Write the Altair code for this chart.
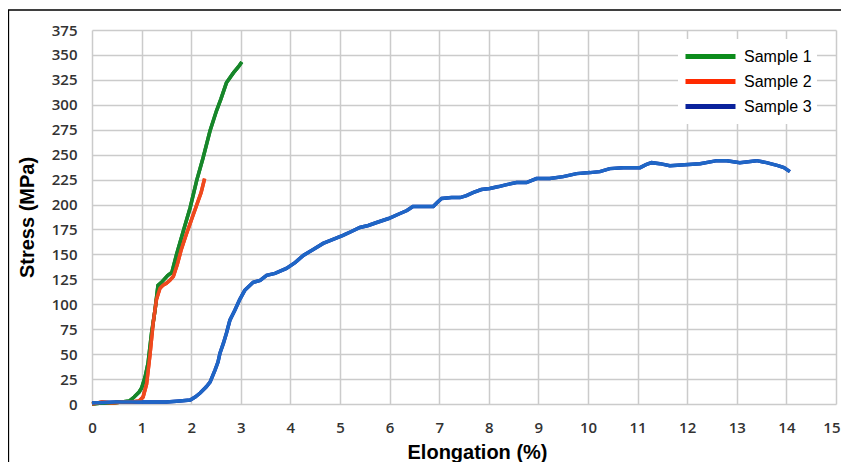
import altair as alt
import pandas as pd

# ---- data ----
samples = ["Sample 1", "Sample 2", "Sample 3"]

s1_x = [0, 0.2, 0.4, 0.6, 0.75, 0.85, 0.95, 1.0, 1.07, 1.13, 1.2, 1.27, 1.33, 1.4,
        1.53, 1.61, 1.71, 1.85, 1.98, 2.11, 2.24, 2.38, 2.51, 2.6, 2.71, 2.85, 2.95, 3.02]
s1_y = [0, 1, 1, 2, 3, 7, 12, 16, 27, 41, 71, 94, 119, 122,
        129, 132, 151, 175, 197, 224, 247, 274, 294, 306, 322, 332, 338, 343]

s2_x = [0, 0.2, 0.4, 0.6, 0.8, 0.95, 1.03, 1.1, 1.17, 1.23, 1.3, 1.37, 1.43, 1.5,
        1.57, 1.64, 1.72, 1.8, 1.9, 2.0, 2.1, 2.2, 2.27]
s2_y = [0, 2, 1, 2, 2, 3, 7, 20, 50, 80, 105, 116, 119, 121,
        124, 128, 140, 155, 170, 184, 198, 212, 226]

s3_x = [0, 0.5, 1.0, 1.5, 1.77, 1.98, 2.08, 2.18, 2.3, 2.38, 2.48, 2.54, 2.58, 2.65, 2.71,
        2.78, 2.88, 2.98, 3.08, 3.25, 3.39, 3.52, 3.69, 3.92, 4.1, 4.26, 4.46, 4.66, 4.86, 5.06,
        5.23, 5.4, 5.57, 5.74, 5.98, 6.21, 6.35, 6.47, 6.7, 6.88, 6.96, 7.05, 7.25, 7.42, 7.55,
        7.68, 7.85, 8.02, 8.2, 8.36, 8.56, 8.76, 8.96, 9.23, 9.5, 9.77, 10.04, 10.24, 10.44, 10.71,
        11.05, 11.17, 11.28, 11.45, 11.65, 11.95, 12.26, 12.6, 12.8, 13.06, 13.4, 13.6, 13.83, 13.95, 14.07]
s3_y = [1, 2, 2, 2, 3, 4, 7, 11, 17, 22, 34, 42, 51, 61, 71,
        84, 94, 105, 114, 122, 124, 129, 131, 136, 142, 149, 155, 161, 165, 169,
        173, 177, 179, 182, 186, 191, 194, 198, 198, 198, 202, 206, 207, 207, 209,
        212, 215, 216, 218, 220, 222, 222, 226, 226, 228, 231, 232, 233, 236, 237,
        237, 240, 242, 241, 239, 240, 241, 244, 244, 242, 244, 242, 239, 237, 233]

x_ticks = list(range(0, 16))
y_ticks = list(range(0, 376, 25))

line_colors = ["#17862a", "#ee4a1e", "#1f66c6"]
legend_colors = ["#0c8c1c", "#ff2a00", "#0a229c"]

rows = []
for name, xs, ys in [(samples[0], s1_x, s1_y), (samples[1], s2_x, s2_y), (samples[2], s3_x, s3_y)]:
    for i, (a, b) in enumerate(zip(xs, ys)):
        rows.append({"sample": name, "elong": a, "stress": b, "i": i})
df = pd.DataFrame(rows)

GRID = "#cbcbcb"

x_enc = alt.X(
    "elong:Q",
    scale=alt.Scale(domain=[0, 15], nice=False),
    axis=alt.Axis(
        values=x_ticks, title="Elongation (%)", grid=True, gridColor=GRID, gridWidth=1.5,
        domain=False, ticks=False, labelPadding=16, labelFont="Open Sans", labelFontSize=15,
        labelFontWeight=600, labelColor="#333333", labelFlush=False,
        labelAlign=alt.condition("datum.value == 15", alt.value("right"), alt.value("center")),
        labelOffset=alt.condition("datum.value == 15", alt.value(4), alt.value(0)),
        titleFont="Liberation Sans", titleFontSize=20, titleFontWeight="bold", titleColor="black",
        titleX=385, titleY=54, titleAlign="center", titleBaseline="alphabetic",
    ),
)
y_enc = alt.Y(
    "stress:Q",
    scale=alt.Scale(domain=[0, 375], nice=False),
    axis=alt.Axis(
        values=y_ticks, title="Stress (MPa)", grid=True, gridColor=GRID, gridWidth=1.5,
        domain=False, ticks=False, labelPadding=15, labelFont="Open Sans", labelFontSize=15,
        labelFontWeight=600, labelColor="#333333", labelFlush=False,
        titleFont="Liberation Sans", titleFontSize=20, titleFontWeight="bold", titleColor="black",
        titleX=-65, titleY=187, titleAlign="center", titleBaseline="middle", titleAngle=270,
    ),
)

base = alt.Chart(df)

legend_layer = base.mark_line(strokeWidth=3.5).encode(
    x=x_enc,
    y=y_enc,
    stroke=alt.Stroke(
        "sample:N",
        scale=alt.Scale(domain=samples, range=legend_colors),
        legend=alt.Legend(
            title=None, orient="none", legendX=586, legendY=9, symbolType="stroke",
            symbolSize=2500, symbolStrokeWidth=5, clipHeight=25, labelFont="Liberation Sans",
            labelFontSize=16, labelColor="black", labelOffset=6, fillColor="white",
            padding=5, rowPadding=0, symbolOpacity=1,
        ),
    ),
    order="i:Q",
)

line_layer = base.mark_line(strokeWidth=3.5).encode(
    x=x_enc,
    y=y_enc,
    color=alt.Color("sample:N", scale=alt.Scale(domain=samples, range=line_colors), legend=None),
    order="i:Q",
)

frame = alt.Chart(pd.DataFrame({"a": [0]})).mark_rect(
    filled=False, stroke="black", strokeWidth=1.3, clip=False
).encode(
    x=alt.value(-83.5), x2=alt.value(950), y=alt.value(-20), y2=alt.value(600)
)

chart = alt.layer(legend_layer, line_layer, frame).properties(
    width=744,
    height=374,
    padding={"left": 84, "top": 22, "right": 5, "bottom": 58},
    autosize=alt.AutoSizeParams(type="none"),
    background="white",
).configure_view(stroke=None)

chart.save("out.html", embed_options={"renderer": "svg", "actions": False})
